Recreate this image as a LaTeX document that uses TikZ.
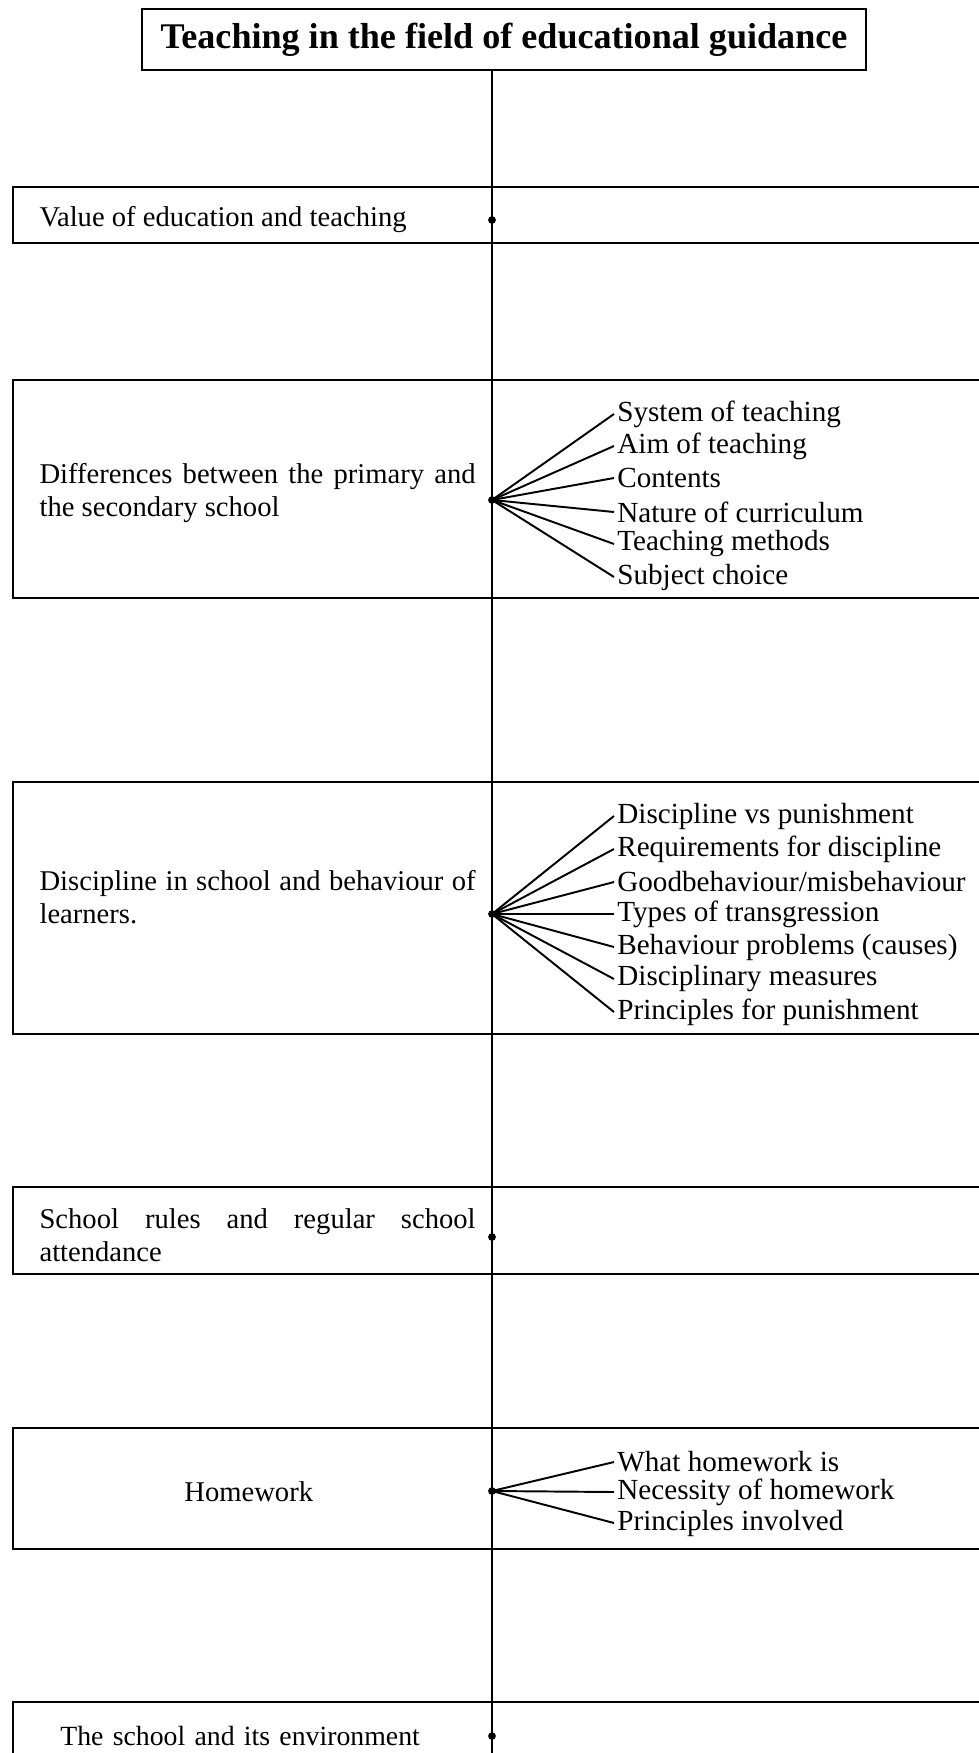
\documentclass[tikz,border=0pt]{standalone}
\usepackage{fontspec}
\setmainfont{Liberation Serif}
\usetikzlibrary{positioning,fit}
\hyphenpenalty=10000
\exhyphenpenalty=10000
\tikzset{
  topic/.style={draw,line width=0.7pt,inner sep=0pt},
  topictext/.style={anchor=west,inner sep=0pt,text width=157pt,align=justify,
    font=\fontsize{10.3}{12}\selectfont},
  titlebox/.style={draw,line width=0.8pt,minimum width=260.6pt,minimum height=22pt,
    inner sep=0pt,font=\bfseries\fontsize{13}{15}\selectfont},
  sub/.style={anchor=west,inner sep=1pt,font=\fontsize{10.5}{12}\selectfont},
  hub/.style={circle,fill,inner sep=0pt,minimum size=2.8pt},
  twig/.style={line width=0.7pt}
}
% [text options]{name}{top}{bottom}{text y}{hub y}{text}
\newcommand{\TopicBox}[7][]{
  \node[topic,fit={(13,#3) (1010,#4)}] (box-#2) {};
  \node[topictext,#1] (text-#2) at (39,#5) {#7};
  \node[hub] (hub-#2) at (492,#6) {};
}
% {hub}{name}{y}{text}
\newcommand{\SubTopic}[4]{
  \node[sub] (#2) at (614,#3) {#4};
  \draw[twig] (hub-#1.center) -- (#2.west);
}
\begin{document}
\begin{tikzpicture}[x=0.36pt,y=-0.36pt]
  \useasboundingbox (0,0) rectangle (978,1753);
  \node[titlebox] (title) at (504,39.5) {Teaching in the field of educational guidance};

  \TopicBox{value}{187}{243}{220}{220}{Value of education and teaching}
  \TopicBox{diff}{380}{598}{493}{500}{Differences between the primary and the secondary school}
  \TopicBox{disc}{782}{1034}{897}{914}{Discipline in school and behaviour of learners.}
  \TopicBox{rules}{1187}{1274}{1235}{1237}{School rules and regular school attendance}
  \TopicBox[align=center,xshift=-3.2pt]{home}{1428}{1549}{1492}{1491}{Homework}
  \TopicBox[align=center,xshift=-6.3pt,font=\fontsize{10}{12}\selectfont]{env}{1702}{1790}{1736}{1736}{The school and its environment}

  \coordinate (foot) at (492,1760);
  \draw[twig] (title.south -| foot) -- (foot);

  \SubTopic{diff}{d1}{414}{System of teaching}
  \SubTopic{diff}{d2}{446}{Aim of teaching}
  \SubTopic{diff}{d3}{478}{Contents}
  \SubTopic{diff}{d4}{512}{Nature of curriculum}
  \SubTopic{diff}{d5}{544}{Teaching methods}
  \SubTopic{diff}{d6}{577}{Subject choice}

  \SubTopic{disc}{p1}{816}{Discipline vs punishment}
  \SubTopic{disc}{p2}{849}{Requirements for discipline}
  \SubTopic{disc}{p3}{882}{Goodbehaviour/misbehaviour}
  \SubTopic{disc}{p4}{914}{Types of transgression}
  \SubTopic{disc}{p5}{947}{Behaviour problems (causes)}
  \SubTopic{disc}{p6}{979}{Disciplinary measures}
  \SubTopic{disc}{p7}{1012}{Principles for punishment}

  \SubTopic{home}{h1}{1462}{What homework is}
  \SubTopic{home}{h2}{1492}{Necessity of homework}
  \SubTopic{home}{h3}{1523}{Principles involved}
\end{tikzpicture}
\end{document}
